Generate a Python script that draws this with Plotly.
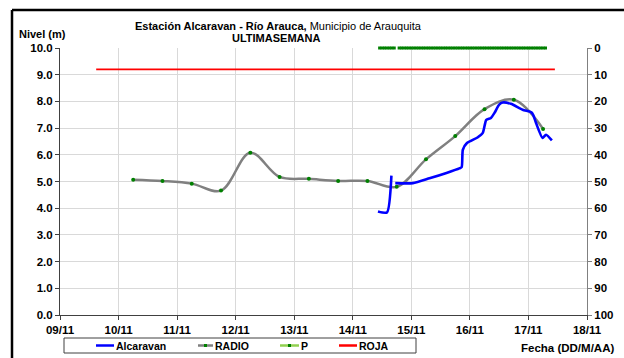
import pandas as pd
import plotly.graph_objects as go

# ---- datos ----
radio_fechas = [
    "2020-11-10 06:00", "2020-11-10 18:00", "2020-11-11 06:00", "2020-11-11 18:00",
    "2020-11-12 06:00", "2020-11-12 18:00", "2020-11-13 06:00", "2020-11-13 18:00",
    "2020-11-14 06:00", "2020-11-14 18:00", "2020-11-15 06:00", "2020-11-15 18:00",
    "2020-11-16 06:00", "2020-11-16 18:00", "2020-11-17 06:00",
]
radio_nivel = [5.07, 5.02, 4.92, 4.66, 6.08, 5.17, 5.10, 5.02, 5.02, 4.80, 5.83, 6.70, 7.71, 8.06, 6.97]

alc_fechas = [
    "2020-11-14 10:20", "2020-11-14 14:00", "2020-11-14 15:50", "2020-11-14 16:40",
    "2020-11-14 17:25", "2020-11-15 00:37", "2020-11-15 07:26", "2020-11-15 14:24",
    "2020-11-15 19:41", "2020-11-15 20:38", "2020-11-15 21:07", "2020-11-15 22:48",
    "2020-11-16 03:07", "2020-11-16 05:17", "2020-11-16 06:43", "2020-11-16 08:38",
    "2020-11-16 10:05", "2020-11-16 12:00", "2020-11-16 13:26", "2020-11-16 16:48",
    "2020-11-16 21:36", "2020-11-17 01:12", "2020-11-17 01:55", "2020-11-17 03:07",
    "2020-11-17 05:46", "2020-11-17 07:12", "2020-11-17 09:36",
]
alc_nivel = [3.88, 3.84, 5.22, None,
             4.94, 4.94, 5.12, 5.32,
             5.49, 5.54, 6.19, 6.44,
             6.65, 6.82, 7.31, 7.38,
             7.57, 7.88, 7.96, 7.91,
             7.69, 7.59, 7.50, 7.19,
             6.63, 6.75, 6.54]

roja_fechas = ["2020-11-09 14:50", "2020-11-17 10:50"]
roja_nivel = [9.2, 9.2]

# precipitacion horaria (eje derecho, invertido)
p_fechas = pd.date_range("2020-11-14 11:00", "2020-11-17 07:00", freq="h")
p_valores = [0, 0, 0, 0, 0, 0, 0, None, 0, 0, 0, 0, 0, 0, 0, 0, 0, 0, 0, 0, 0, 0, 0,
             0, 0, 0, 0, 0, 0, 0, 0, 0, 0, 0, 0, 0, 0, 0, 0, 0, 0, 0, 0, 0, 0, 0,
             0, 0, 0, 0, 0, 0, 0, 0, 0, 0, 0, 0, 0, 0, 0, 0, 0, 0, 0, 0, 0, 0, 0]

dias = ["2020-11-09", "2020-11-18"]

FONT = "Liberation Sans, Arial, sans-serif"
AZUL = "#0000FF"
GRIS = "#808080"
VERDE = "#008000"
VERDE_CLARO = "#92D050"
ROJO = "#FF0000"

fig = go.Figure()

fig.add_trace(go.Scatter(
    x=roja_fechas, y=roja_nivel, mode="lines", name="ROJA",
    line=dict(color=ROJO, width=1.8), showlegend=False,
))
fig.add_trace(go.Scatter(
    x=radio_fechas, y=radio_nivel, mode="lines+markers", name="RADIO",
    line=dict(color=GRIS, width=2.5, shape="spline", smoothing=1.0),
    marker=dict(color=VERDE, size=4), showlegend=False,
))
fig.add_trace(go.Scatter(
    x=alc_fechas, y=alc_nivel, mode="lines", name="Alcaravan",
    line=dict(color=AZUL, width=2.6, shape="spline", smoothing=0.6),
    connectgaps=False, showlegend=False,
))
fig.add_trace(go.Scatter(
    x=p_fechas, y=p_valores, mode="lines+markers", name="P", yaxis="y2",
    line=dict(color=VERDE_CLARO, width=1), marker=dict(color=VERDE, size=3, symbol="square"),
    cliponaxis=False, connectgaps=False, showlegend=False,
))

# ---- leyenda dibujada a mano (px -> papel) ----
X0, X1, Y0, Y1 = 60, 587, 315, 48


def px(x):
    return (x - X0) / (X1 - X0)


def py(y):
    return (Y0 - y) / (Y0 - Y1)


shapes = [
    # marco exterior (cortado a la derecha y abajo)
    dict(type="line", xref="paper", yref="paper", x0=px(12), x1=px(640), y0=py(10), y1=py(10),
         line=dict(color="black", width=2.5)),
    dict(type="line", xref="paper", yref="paper", x0=px(12), x1=px(12), y0=py(10), y1=py(370),
         line=dict(color="black", width=2.5)),
    # caja de leyenda
    dict(type="rect", xref="paper", yref="paper", x0=px(64), x1=px(416), y0=py(353), y1=py(338),
         line=dict(color="#404040", width=1), fillcolor="white"),
]
ley_y = 345.5
items = [("Alcaravan", AZUL, 96, 114, False), ("RADIO", GRIS, 198, 213, True),
         ("P", VERDE_CLARO, 280, 299, True), ("ROJA", ROJO, 339, 357, False)]
annotations = []
for nombre, color, a, b, marca in items:
    shapes.append(dict(type="line", xref="paper", yref="paper", x0=px(a), x1=px(b),
                       y0=py(ley_y), y1=py(ley_y), line=dict(color=color, width=2.5)))
    if marca:
        c = (a + b) / 2
        shapes.append(dict(type="rect", xref="paper", yref="paper", x0=px(c - 1.5), x1=px(c + 1.5),
                           y0=py(ley_y + 1.5), y1=py(ley_y - 1.5),
                           line=dict(color=VERDE, width=0), fillcolor=VERDE))
    annotations.append(dict(x=px(b), y=py(ley_y), xref="paper", yref="paper", text=nombre,
                            showarrow=False, xanchor="left", yanchor="middle",
                            font=dict(family=FONT, size=10.5, color="black", weight="bold")))

annotations += [
    dict(x=px(278), y=py(26), xref="paper", yref="paper", showarrow=False,
         text="<b>Estación Alcaravan - Río Arauca,</b> Municipio de Arauquita",
         xanchor="center", yanchor="middle", font=dict(family=FONT, size=11, color="black")),
    dict(x=px(276), y=py(38), xref="paper", yref="paper", showarrow=False,
         text="<b>ULTIMASEMANA</b>",
         xanchor="center", yanchor="middle", font=dict(family=FONT, size=11, color="black")),
    dict(x=px(17), y=py(34), xref="paper", yref="paper", showarrow=False,
         text="<b>Nivel (m)</b>",
         xanchor="left", yanchor="middle", font=dict(family=FONT, size=11, color="black")),
    dict(x=px(567), y=py(348), xref="paper", yref="paper", showarrow=False,
         text="<b>Fecha (DD/M/AA)</b>",
         xanchor="center", yanchor="middle", font=dict(family=FONT, size=11.5, color="black")),
]

tick_font = dict(family=FONT, size=11.5, color="black", weight="bold")

fig.update_layout(
    width=624, height=358,
    margin=dict(l=X0, r=624 - X1, t=Y1, b=358 - Y0),
    paper_bgcolor="white", plot_bgcolor="white",
    showlegend=False,
    shapes=shapes,
    annotations=annotations,
    xaxis=dict(
        type="date", range=dias, dtick=86400000, tickformat="%d/%m",
        tickfont=tick_font, showgrid=True, gridcolor="#D9D9D9", gridwidth=1,
        showline=True, linecolor="#404040", linewidth=1,
        ticks="outside", ticklen=4, tickcolor="#404040", zeroline=False,
    ),
    yaxis=dict(
        range=[0, 10], dtick=1, tickformat=".1f", tickfont=tick_font,
        showgrid=True, gridcolor="#D9D9D9", gridwidth=1,
        showline=True, linecolor="#404040", linewidth=1,
        ticks="outside", ticklen=4, tickcolor="#404040", zeroline=False,
    ),
    yaxis2=dict(
        range=[100, 0], dtick=10, overlaying="y", side="right", tickfont=tick_font,
        showgrid=False, showline=True, linecolor="#808080", linewidth=1,
        ticks="outside", ticklen=4, tickcolor="#808080", zeroline=False,
    ),
)

# la pagina trae el margen por defecto del navegador (8px); se quita
fig.write_html("out.html", config={"displayModeBar": False},
               post_script="document.body.style.margin='0px';")
